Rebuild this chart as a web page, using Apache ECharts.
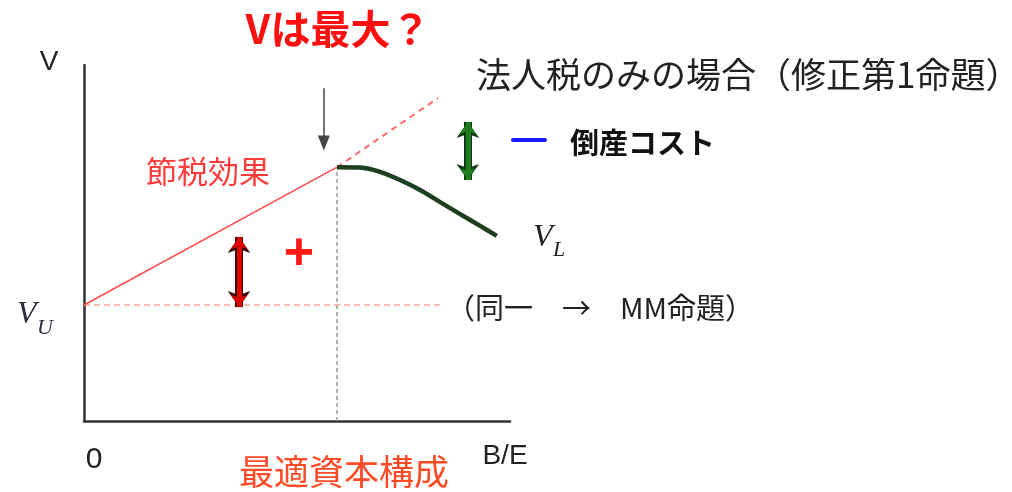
<!DOCTYPE html>
<html>
<head>
<meta charset="utf-8">
<script src="https://cdn.jsdelivr.net/npm/echarts@6/dist/echarts.min.js"></script>
<style>
  html, body { margin: 0; padding: 0; background: #fff; }
  #chart { width: 1012px; height: 492px; }
</style>
</head>
<body>
<div id="chart"></div>
<script>
// values on a 0-100 scale for both axes (B/E across, V up)
const taxLine = [[0, 32.6], [59.4, 71.3]];
const taxExtension = [[59.4, 71.3], [83.1, 90.7]];
const unleveredLine = [[0, 32.6], [83.5, 32.6]];
const optimumGuide = [[59.4, 0], [59.4, 71.3]];
const leveredCurve = [[59.4, 71.3], [64.8, 71.2], [69.5, 70.0], [74.2, 67.7], [78.9, 64.9], [83.6, 61.5], [88.3, 58.1], [93.0, 54.8], [96.9, 52.0]];
const taxArrow = [[36.4, 51.7], [36.4, 32.0]];
const costArrow = [[90.1, 84.0], [90.1, 67.7]];
const pointerArrow = [[56.3, 93.5], [56.3, 78.1]];

const JP = '"Noto Sans CJK JP"';
const LATIN = '"Liberation Sans"';
const SERIF = '"Liberation Serif"';

function arrowLine(pts, color, width, size, symbols) {
	return {
		type: 'line',
		data: [],
		silent: true,
		markLine: {
			silent: true,
			animation: false,
			symbol: symbols,
			symbolSize: size,
			label: { show: false },
			lineStyle: { color: color, width: width, type: 'solid' },
			data: [[{ coord: pts[0] }, { coord: pts[1] }]]
		}
	};
}

function text(x, y, str, font, fill, align) {
	return {
		type: 'text',
		x: x,
		y: y,
		style: {
			text: str,
			font: font,
			fill: fill,
			align: align || 'center',
			verticalAlign: 'middle'
		}
	};
}

let chart = echarts.init(document.getElementById('chart'));

var option = {
	backgroundColor: '#fff',
	animation: false,
	grid: { left: 84, right: 502, top: 65, bottom: 71, containLabel: false },
	xAxis: {
		type: 'value',
		min: 0,
		max: 100,
		axisLine: { lineStyle: { color: '#333', width: 2.5 } },
		axisTick: { show: false },
		axisLabel: { show: false },
		splitLine: { show: false }
	},
	yAxis: {
		type: 'value',
		min: 0,
		max: 100,
		axisLine: { show: true, lineStyle: { color: '#333', width: 2.5 } },
		axisTick: { show: false },
		axisLabel: { show: false },
		splitLine: { show: false }
	},
	series: [
		{
			type: 'line',
			data: optimumGuide,
			symbol: 'none',
			lineStyle: { color: '#9a9a9a', width: 1.5, type: [4, 3] }
		},
		{
			type: 'line',
			data: unleveredLine,
			symbol: 'none',
			lineStyle: { color: '#f5a898', width: 1.5, type: [6, 4] }
		},
		{
			type: 'line',
			data: taxLine,
			symbol: 'none',
			lineStyle: { color: '#ff4d4d', width: 1.6 }
		},
		{
			type: 'line',
			data: taxExtension,
			symbol: 'none',
			lineStyle: { color: '#ff6b6b', width: 2, type: [6, 5] }
		},
		{
			type: 'line',
			data: leveredCurve,
			symbol: 'none',
			smooth: 0.25,
			lineStyle: { color: '#1d3f1d', width: 4.5 }
		},
		arrowLine(pointerArrow, '#444', 1.5, [12, 15], ['none', 'triangle']),
		arrowLine(taxArrow, '#3a0a0a', 8, [17, 16], ['arrow', 'arrow']),
		arrowLine(taxArrow, '#e00000', 5, [12, 12], ['arrow', 'arrow']),
		arrowLine(costArrow, '#0f3a0f', 8, [17, 16], ['arrow', 'arrow']),
		arrowLine(costArrow, '#1f7d1f', 5, [12, 12], ['arrow', 'arrow'])
	],
	graphic: [
		text(338, 29, 'Vは最大？', 'bold 40px ' + JP, '#ff1010'),
		text(49, 62, 'V', '28px ' + LATIN, '#222'),
		text(476, 75, '法人税のみの場合（修正第1命題）', '35px ' + JP, '#222', 'left'),
		text(208, 171, '節税効果', '31px ' + JP, '#ff3b3b'),
		text(299, 255, '+', 'bold 52px ' + LATIN, '#ff1a1a'),
		{
			type: 'line',
			shape: { x1: 513, y1: 140, x2: 545, y2: 140 },
			style: { stroke: '#1a1aff', lineWidth: 4, lineCap: 'round' }
		},
		text(570, 143, '倒産コスト', 'bold 29px ' + JP, '#111', 'left'),
		text(533, 238, 'V', 'italic 32px ' + SERIF, '#222', 'left'),
		text(553, 250, 'L', 'italic 22px ' + SERIF, '#222', 'left'),
		text(17, 315, 'V', 'italic 32px ' + SERIF, '#2a2a3a', 'left'),
		text(37, 328, 'U', 'italic 22px ' + SERIF, '#2a2a3a', 'left'),
		text(446, 308, '（同一　→　MM命題）', '29px ' + JP, '#222', 'left'),
		text(94, 460, '0', '30px ' + LATIN, '#222'),
		text(344, 472, '最適資本構成', '35px ' + JP, '#ff4a26'),
		text(505, 456, 'B/E', '28px ' + LATIN, '#222')
	]
};

chart.setOption(option);
</script>
</body>
</html>
